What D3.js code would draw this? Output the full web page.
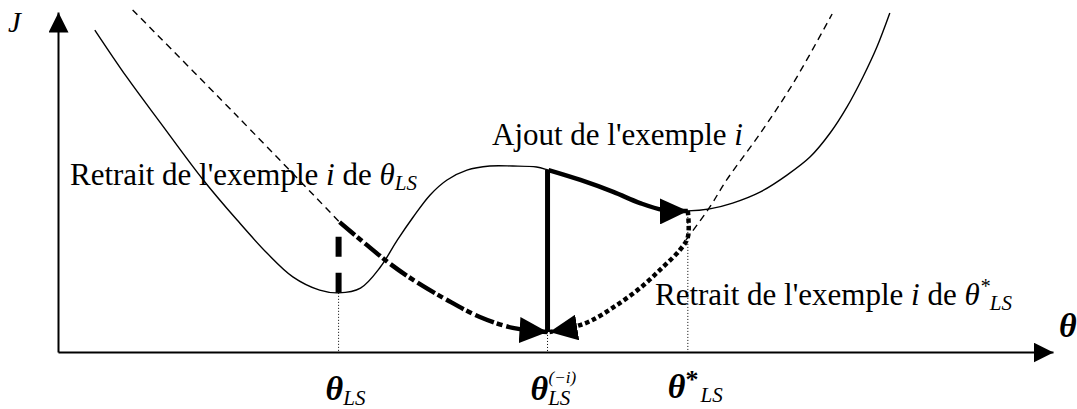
<!DOCTYPE html>
<html>
<head>
<meta charset="utf-8">
<script src="https://cdn.jsdelivr.net/npm/d3@7"></script>
<style>
  body { margin: 0; background: #fff; }
</style>
</head>
<body>
<div id="chart"></div>
<script>
// schematic J(theta), arbitrary units: theta 0..10, J 0..10
const jCurve = [
  [0.37, 9.47], [0.69, 8.09], [1.03, 6.74], [1.46, 5.06], [1.80, 3.88],
  [2.10, 2.91], [2.36, 2.21], [2.63, 1.82], [2.82, 1.74], [3.04, 1.88],
  [3.24, 2.50], [3.41, 3.29], [3.57, 3.97], [3.74, 4.62], [3.91, 5.06],
  [4.11, 5.35], [4.34, 5.47], [4.57, 5.47], [4.81, 5.44], [4.93, 5.35],
  [5.25, 5.06], [5.58, 4.71], [5.85, 4.38], [6.08, 4.18], [6.33, 4.15],
  [6.55, 4.21], [6.78, 4.38], [7.06, 4.71], [7.33, 5.21], [7.56, 5.74],
  [7.76, 6.44], [7.93, 7.21], [8.09, 8.09], [8.23, 8.97], [8.36, 9.97]
];
const dashLeft = [[0.75, 10.06], [1.80, 6.94], [2.83, 3.82]];
const retraitPath = [
  [2.83, 3.82], [3.09, 3.18], [3.34, 2.59], [3.57, 2.12],
  [3.91, 1.53], [4.24, 1.03], [4.57, 0.71], [4.92, 0.59]
];
const dotPath = [
  [6.33, 4.15], [6.33, 3.38], [6.25, 3.00], [6.07, 2.47], [5.85, 1.88],
  [5.60, 1.35], [5.35, 0.91], [5.15, 0.71], [4.94, 0.59]
];
const dashRight = [[6.31, 3.29], [6.55, 4.26], [6.72, 5.06], [7.06, 6.44], [7.39, 7.91], [7.78, 9.94]];

const keyTheta = [2.82, 4.92, 6.33];   // theta_LS, theta_LS^(-i), theta*_LS
const keyJ = [1.74, 0.59, 4.15];
const jumpTop = 3.44;                  // top of the dashed jump at theta_LS
const peakJ = 5.35;                    // J(theta^(-i)) on the curve

const width = 1077, height = 409;
const serif = "Liberation Serif";

let x = d3.scaleLinear().domain([0, 10]).range([58, 1053]);
let y = d3.scaleLinear().domain([0, 10]).range([352, 12]);

let svg = d3.select("#chart")
  .append("svg")
  .attr("width", width)
  .attr("height", height)
  .style("background", "#fff");

let defs = svg.append("defs");
function marker(id, len, half) {
  defs.append("marker")
    .attr("id", id)
    .attr("markerUnits", "userSpaceOnUse")
    .attr("viewBox", `0 ${-half} ${len} ${2 * half}`)
    .attr("markerWidth", len)
    .attr("markerHeight", 2 * half)
    .attr("refX", len)
    .attr("refY", 0)
    .attr("orient", "auto")
    .append("path")
    .attr("d", `M0,${-half}L${len},0L0,${half}Z`)
    .attr("fill", "#000");
}
marker("axisHead", 20, 10);
marker("head", 28, 13);

// axes, no ticks
svg.append("g")
  .attr("transform", "translate(0," + y(0) + ")")
  .call(d3.axisBottom(x).tickValues([]).tickSizeOuter(0))
  .select(".domain")
  .attr("stroke-width", 2)
  .attr("marker-end", "url(#axisHead)");

svg.append("g")
  .attr("transform", "translate(" + x(0) + ",0)")
  .call(d3.axisLeft(y).tickValues([]).tickSizeOuter(0))
  .select(".domain")
  .attr("stroke-width", 2)
  .attr("marker-end", "url(#axisHead)");

let line = d3.line()
  .x(d => x(d[0]))
  .y(d => y(d[1]))
  .curve(d3.curveCatmullRom.alpha(0.5));

// thin curves
svg.append("path")
  .datum(jCurve)
  .attr("fill", "none")
  .attr("stroke", "#000")
  .attr("stroke-width", 1.4)
  .attr("d", line);

[dashLeft, dashRight].forEach(pts => {
  svg.append("path")
    .datum(pts)
    .attr("fill", "none")
    .attr("stroke", "#000")
    .attr("stroke-width", 1.4)
    .attr("stroke-dasharray", "7,5")
    .attr("d", line);
});

// dotted drop lines to the theta axis
svg.append("g")
  .selectAll("line")
  .data(keyTheta)
  .enter()
  .append("line")
  .attr("x1", d => x(d))
  .attr("x2", d => x(d))
  .attr("y1", (d, i) => y(keyJ[i]))
  .attr("y2", y(0))
  .attr("stroke", "#000")
  .attr("stroke-width", 1)
  .attr("stroke-dasharray", "1,2");

// dashed jump at theta_LS
svg.append("line")
  .attr("x1", x(keyTheta[0]))
  .attr("x2", x(keyTheta[0]))
  .attr("y1", y(keyJ[0]))
  .attr("y2", y(jumpTop))
  .attr("stroke", "#000")
  .attr("stroke-width", 6)
  .attr("stroke-dasharray", "20,16");

// solid jump at theta^(-i)
svg.append("line")
  .attr("x1", x(keyTheta[1]))
  .attr("x2", x(keyTheta[1]))
  .attr("y1", y(keyJ[1]))
  .attr("y2", y(peakJ))
  .attr("stroke", "#000")
  .attr("stroke-width", 5);

// bold arrows
svg.append("path")
  .datum(jCurve.filter(d => d[0] >= keyTheta[1] && d[0] <= keyTheta[2]))
  .attr("fill", "none")
  .attr("stroke", "#000")
  .attr("stroke-width", 4.5)
  .attr("marker-end", "url(#head)")
  .attr("d", line);

svg.append("path")
  .datum(retraitPath)
  .attr("fill", "none")
  .attr("stroke", "#000")
  .attr("stroke-width", 4.5)
  .attr("stroke-dasharray", "20,3,6,4")
  .attr("marker-end", "url(#head)")
  .attr("d", line);

svg.append("path")
  .datum(dotPath)
  .attr("fill", "none")
  .attr("stroke", "#000")
  .attr("stroke-width", 4.5)
  .attr("stroke-dasharray", "4.5,3")
  .attr("marker-end", "url(#head)")
  .attr("d", line);

// texts
let labels = svg.append("g")
  .attr("fill", "#000")
  .style("font-family", serif);

labels.append("text")
  .attr("x", 8).attr("y", 32)
  .attr("font-size", 29).attr("font-style", "italic")
  .text("J");

labels.append("text")
  .attr("x", 1059).attr("y", 337)
  .attr("font-size", 34).attr("font-style", "italic").attr("font-weight", "bold")
  .text("θ");

let t1 = labels.append("text").attr("x", 70).attr("y", 185).attr("font-size", 31);
t1.append("tspan").text("Retrait de l'exemple ");
t1.append("tspan").attr("font-style", "italic").text("i");
t1.append("tspan").text(" de ");
t1.append("tspan").attr("font-style", "italic").text("θ");
t1.append("tspan").attr("font-style", "italic").attr("font-size", 21).attr("dy", 5).text("LS");

let t2 = labels.append("text").attr("x", 492).attr("y", 145).attr("font-size", 31);
t2.append("tspan").text("Ajout de l'exemple ");
t2.append("tspan").attr("font-style", "italic").text("i");

let t3 = labels.append("text").attr("x", 655).attr("y", 305).attr("font-size", 31);
t3.append("tspan").text("Retrait de l'exemple ");
t3.append("tspan").attr("font-style", "italic").text("i");
t3.append("tspan").text(" de ");
t3.append("tspan").attr("font-style", "italic").text("θ");
t3.append("tspan").attr("font-style", "italic").attr("font-size", 20).attr("dy", -12).text("*");
t3.append("tspan").attr("font-style", "italic").attr("font-size", 21).attr("dy", 17).text("LS");

// theta labels under the axis
let b1 = labels.append("text").attr("x", x(keyTheta[0]) - 13).attr("y", 400).attr("font-size", 34);
b1.append("tspan").attr("font-style", "italic").attr("font-weight", "bold").text("θ");
b1.append("tspan").attr("font-style", "italic").attr("font-size", 21).attr("dy", 5).text("LS");

let b2 = labels.append("text").attr("x", x(keyTheta[1]) - 17).attr("y", 400).attr("font-size", 34);
b2.append("tspan").attr("font-style", "italic").attr("font-weight", "bold").text("θ");
b2.append("tspan").attr("font-style", "italic").attr("font-size", 21).attr("dy", 5).text("LS");
b2.append("tspan").attr("font-style", "italic").attr("font-size", 17)
  .attr("x", x(keyTheta[1]) + 1).attr("y", 383).text("(−i)");

let b3 = labels.append("text").attr("x", x(keyTheta[2]) - 20).attr("y", 398).attr("font-size", 34);
b3.append("tspan").attr("font-style", "italic").attr("font-weight", "bold").text("θ");
b3.append("tspan").attr("font-weight", "bold").attr("font-size", 26).attr("dy", -10).text("*");
b3.append("tspan").attr("font-style", "italic").attr("font-size", 21).attr("dx", 2).attr("dy", 14).text("LS");
</script>
</body>
</html>
